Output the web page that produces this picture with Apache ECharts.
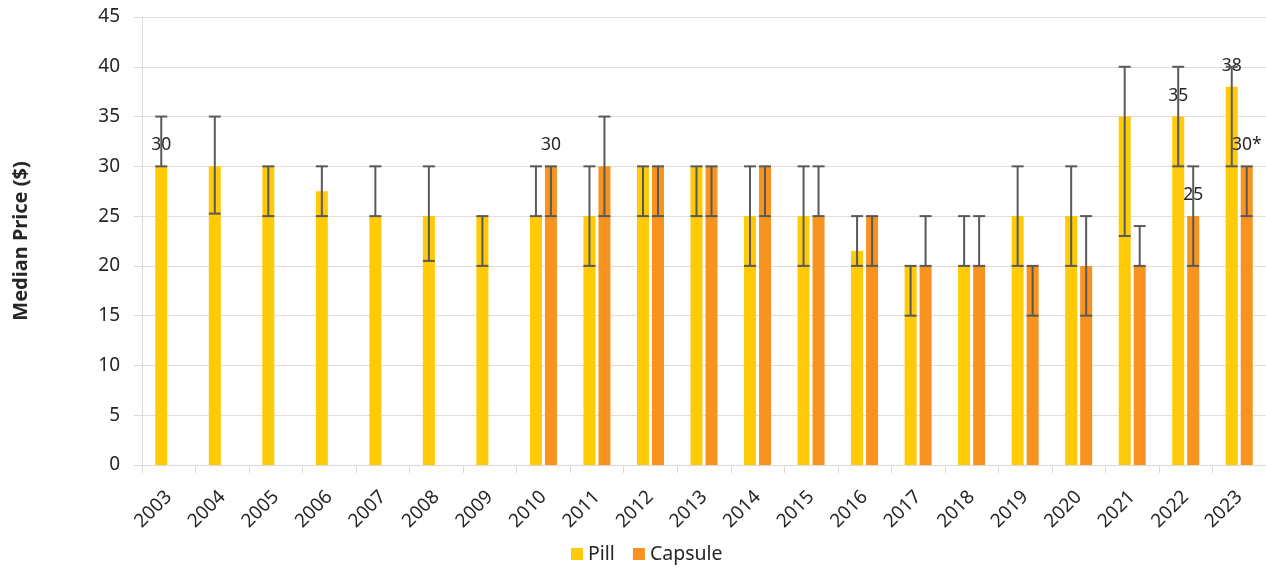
<!DOCTYPE html>
<html>
<head>
<meta charset="utf-8">
<script src="https://cdn.jsdelivr.net/npm/echarts@6/dist/echarts.min.js"></script>
<style>html,body{margin:0;padding:0;background:#fff}#c{width:1266px;height:570px}</style>
</head>
<body>
<div id="c"></div>
<script>
const years = ['2003','2004','2005','2006','2007','2008','2009','2010','2011','2012','2013','2014','2015','2016','2017','2018','2019','2020','2021','2022','2023'];
const pill = [30,30,30,27.5,25,25,25,25,25,30,30,25,25,21.5,20,20,25,25,35,35,38];
const capsule = [null,null,null,null,null,null,null,30,30,30,30,30,25,25,20,20,20,20,20,25,30];
const pillLow = [30,25.25,25,25,25,20.5,20,25,20,25,25,20,20,20,15,20,20,20,23,30,30];
const pillHigh = [35,35,30,30,30,30,25,30,30,30,30,30,30,25,20,25,30,30,40,40,40];
const capLow = [null,null,null,null,null,null,null,25,25,25,25,25,25,20,20,20,15,15,20,20,25];
const capHigh = [null,null,null,null,null,null,null,30,35,30,30,30,30,25,25,25,20,25,24,30,30];
const pillLabels = {0:'30',19:'35',20:'38'};
const capLabels = {7:'30',19:'25',20:'30*'};
const yTicks = [0,5,10,15,20,25,30,35,40,45];

const FONT = '"Noto Sans", "Open Sans", sans-serif';
const TXT = '#262626';

function barData(vals, labels){
  return vals.map((v,i)=>{
    if (v == null) return null;
    const item = {value: v};
    if (labels[i] != null) {
      item.label = {show: true, formatter: labels[i]};
    }
    return item;
  });
}
function errData(lo, hi){
  const out = [];
  lo.forEach((l,i)=>{ if (l != null && hi[i] != null) out.push([i, l, hi[i]]); });
  return out;
}
function errSeries(name, data, offset){
  return {
    type: 'custom', name: name + ' err', data: data, z: 5, silent: true,
    encode: {x: 0, y: [1,2]},
    renderItem: function(params, api){
      const idx = api.value(0);
      const lo = api.coord([idx, api.value(1)]);
      const hi = api.coord([idx, api.value(2)]);
      const x = lo[0] + offset;
      const hw = 6;
      const st = {stroke: '#595959', lineWidth: 2};
      return {type: 'group', children: [
        {type:'line', shape:{x1:x, y1:lo[1], x2:x, y2:hi[1]}, style: st},
        {type:'line', shape:{x1:x-hw, y1:lo[1], x2:x+hw, y2:lo[1]}, style: st},
        {type:'line', shape:{x1:x-hw, y1:hi[1], x2:x+hw, y2:hi[1]}, style: st}
      ]};
    }
  };
}

const chart = echarts.init(document.getElementById('c'));
chart.setOption({
  animation: false,
  textStyle: {fontFamily: FONT},
  grid: {left: 142, right: 0, top: 17, bottom: 105, containLabel: false},
  legend: {
    bottom: 1, left: 566,
    itemWidth: 12, itemHeight: 12, itemGap: 18,
    icon: 'rect',
    textStyle: {fontSize: 19.5, color: TXT, fontFamily: FONT},
    data: ['Pill','Capsule']
  },
  xAxis: {
    type: 'category', data: years,
    axisLine: {lineStyle: {color: '#d9d9d9'}},
    axisTick: {show: true, length: 8, lineStyle: {color: '#d9d9d9'}},
    axisLabel: {rotate: 45, fontSize: 19, color: TXT, margin: 29, fontFamily: FONT}
  },
  yAxis: {
    type: 'value', min: 0, max: 45, interval: 5,
    name: 'Median Price ($)', nameLocation: 'middle', nameGap: 111, nameRotate: 90,
    nameTextStyle: {fontSize: 20, fontWeight: 'bold', color: TXT, fontFamily: FONT},
    axisLine: {show: true, lineStyle: {color: '#d9d9d9'}},
    axisTick: {show: true, length: 8, lineStyle: {color: '#d9d9d9'}},
    splitLine: {lineStyle: {color: '#e3dcdc'}},
    axisLabel: {fontSize: 19, color: TXT, margin: 22, fontFamily: FONT,
      formatter: v => yTicks.includes(v) ? String(v) : ''}
  },
  series: [
    {name: 'Pill', type: 'bar', data: barData(pill, pillLabels), barWidth: 12, barGap: '25%',
     itemStyle: {color: '#FFCA08'},
     label: {show: false, position: 'top', distance: 12, fontSize: 17.5, color: TXT, fontFamily: FONT}},
    {name: 'Capsule', type: 'bar', data: barData(capsule, capLabels), barWidth: 12, barGap: '25%',
     itemStyle: {color: '#F7931E'},
     label: {show: false, position: 'top', distance: 12, fontSize: 17.5, color: TXT, fontFamily: FONT}},
    errSeries('Pill', errData(pillLow, pillHigh), -7.5),
    errSeries('Capsule', errData(capLow, capHigh), 7.5)
  ]
});
</script>
</body>
</html>
